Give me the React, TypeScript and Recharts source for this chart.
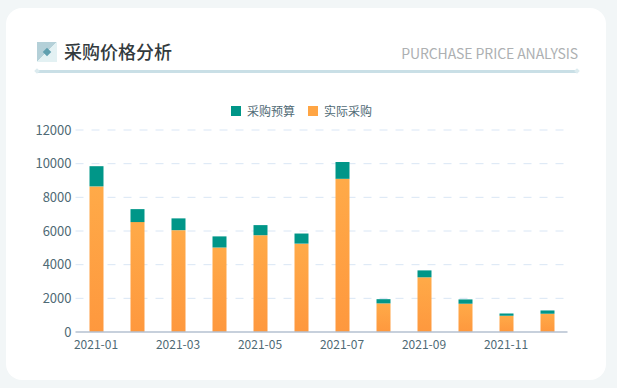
import React from "react";
import {
  BarChart,
  Bar,
  XAxis,
  YAxis,
  CartesianGrid,
} from "recharts";

const months = [
  "2021-01", "2021-02", "2021-03", "2021-04", "2021-05", "2021-06",
  "2021-07", "2021-08", "2021-09", "2021-10", "2021-11", "2021-12",
];
// Heights: the orange part and the teal part on top of it
const actual = [8650, 6530, 6050, 5020, 5750, 5250, 9100, 1700, 3250, 1680, 965, 1085];
const budget = [1200, 770, 700, 660, 600, 600, 1000, 250, 410, 255, 135, 195];
const yTicks = [0, 2000, 4000, 6000, 8000, 10000, 12000];

const data = months.map((month, i) => ({
  month,
  actual: actual[i],
  budget: budget[i],
}));

const FONT = '"Noto Sans CJK SC", "Noto Sans", sans-serif';
const TICK_COLOR = "#4f6a75";

const LegendRow = () => (
  <div
    style={{
      position: "absolute",
      left: 231,
      top: 102,
      display: "flex",
      gap: 13,
      fontFamily: FONT,
      fontSize: 12,
      color: TICK_COLOR,
      lineHeight: "17px",
    }}
  >
    {[
      { label: "采购预算", color: "#009688" },
      { label: "实际采购", color: "#ffa544" },
    ].map((item) => (
      <span key={item.label} style={{ display: "flex", alignItems: "center", gap: 6 }}>
        <span style={{ width: 10, height: 10, background: item.color }} />
        {item.label}
      </span>
    ))}
  </div>
);

// small diamond at each end of the header rule
const RuleEnd = ({ left }: { left: number }) => (
  <div
    style={{
      position: "absolute",
      left,
      top: 69,
      width: 4,
      height: 4,
      background: "#dcebef",
      transform: "rotate(45deg)",
    }}
  />
);

const App = () => (
  <div
    style={{
      position: "relative",
      width: 617,
      height: 388,
      overflow: "hidden",
      background: "#f2f6f7",
    }}
  >
    <style>{`body { margin: 0; }`}</style>
    {/* card */}
    <div
      style={{
        position: "absolute",
        left: 6,
        top: 8,
        width: 600,
        height: 372,
        borderRadius: 16,
        background: "#ffffff",
      }}
    />
    {/* header */}
    <div
      style={{
        position: "absolute",
        left: 37,
        top: 42,
        width: 20,
        height: 20,
        background: "linear-gradient(135deg, #b4d0d8 50%, #e3f1f3 50%)",
      }}
    />
    <div
      style={{
        position: "absolute",
        left: 44,
        top: 49,
        width: 6,
        height: 6,
        background: "#5f9fae",
        transform: "rotate(45deg)",
      }}
    />
    <div
      style={{
        position: "absolute",
        left: 64,
        top: 39,
        fontFamily: FONT,
        fontSize: 18,
        fontWeight: 500,
        lineHeight: "25px",
        color: "#333a3d",
      }}
    >
      采购价格分析
    </div>
    <div
      style={{
        position: "absolute",
        right: 39,
        top: 42,
        fontFamily: FONT,
        fontSize: 14,
        letterSpacing: -0.09,
        lineHeight: "22px",
        color: "#adb0b2",
      }}
    >
      PURCHASE PRICE ANALYSIS
    </div>
    <div
      style={{
        position: "absolute",
        left: 37,
        top: 70,
        width: 540,
        height: 2.5,
        background: "#c9dfe6",
      }}
    />
    <RuleEnd left={35} />
    <RuleEnd left={575} />
    <BarChart
      width={617}
      height={388}
      data={data}
      margin={{ top: 130, right: 49.5, bottom: 26, left: 15.5 }}
      style={{ position: "absolute", left: 0, top: 0 }}
    >
      <defs>
        <linearGradient id="actualFill" x1="0" y1="0" x2="0" y2="1">
          <stop offset="0%" stopColor="#ffaa48" />
          <stop offset="100%" stopColor="#fe983e" />
        </linearGradient>
      </defs>
      <CartesianGrid
        vertical={false}
        stroke="#d9e6f5"
        strokeDasharray="8 8"
        horizontalValues={yTicks.slice(1)}
      />
      <XAxis
        dataKey="month"
        height={30}
        interval={1}
        tickLine={false}
        tickSize={0}
        axisLine={{ stroke: "#b4c0d0", strokeWidth: 1.5 }}
        tick={{ fill: TICK_COLOR, fontSize: 12, fontFamily: FONT }}
        tickMargin={8}
      />
      <YAxis
        width={60}
        domain={[0, 12000]}
        ticks={yTicks}
        tickLine={false}
        tickSize={0}
        axisLine={false}
        tick={{ fill: TICK_COLOR, fontSize: 13, fontFamily: FONT }}
        tickMargin={4}
      />
      <Bar dataKey="actual" stackId="a" barSize={14} fill="url(#actualFill)" isAnimationActive={false} />
      <Bar dataKey="budget" stackId="a" barSize={14} fill="#009688" isAnimationActive={false} />
    </BarChart>
    <LegendRow />
  </div>
);

export default App;
